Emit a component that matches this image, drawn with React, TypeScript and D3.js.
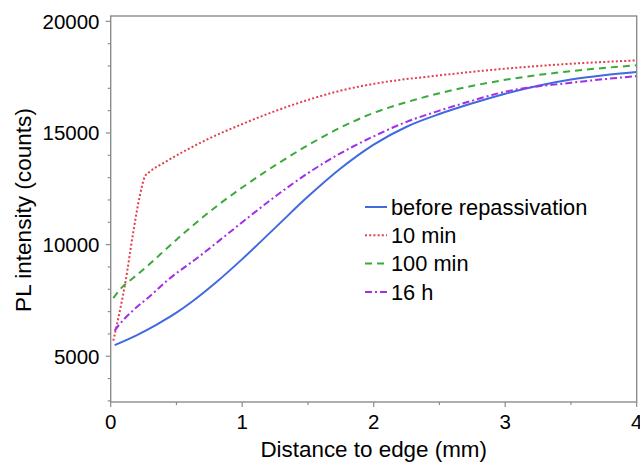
import React from "react";
import * as d3 from "d3";

const seriesNames = ["before repassivation", "10 min", "100 min", "16 h"];

const beforeX = [0.03, 0.2, 0.35, 0.5, 0.62, 0.8, 1.0, 1.25, 1.5, 1.75, 2.0, 2.25, 2.5, 2.75, 3.0, 3.25, 3.5, 3.75, 4.0];
const beforeY = [5500, 5950, 6420, 6950, 7450, 8300, 9350, 10750, 12150, 13420, 14480, 15280, 15850, 16330, 16760, 17120, 17400, 17590, 17730];

const min10X = [0.02, 0.07, 0.11, 0.17, 0.22, 0.26, 0.3, 0.4, 0.58, 0.73, 1.0, 1.25, 1.5, 1.75, 2.0, 2.5, 3.0, 3.5, 4.0];
const min10Y = [5700, 7050, 8250, 10500, 12150, 13050, 13280, 13650, 14250, 14700, 15400, 15980, 16480, 16900, 17200, 17580, 17880, 18100, 18250];

const min100X = [0.02, 0.08, 0.17, 0.3, 0.43, 0.55, 0.68, 0.83, 1.0, 1.25, 1.5, 1.75, 2.0, 2.25, 2.5, 3.0, 3.5, 4.0];
const min100Y = [7600, 8050, 8500, 9150, 9850, 10480, 11130, 11830, 12560, 13550, 14450, 15250, 15900, 16380, 16780, 17380, 17770, 18030];

const h16X = [0.03, 0.07, 0.17, 0.3, 0.43, 0.68, 0.83, 1.0, 1.25, 1.5, 1.75, 2.0, 2.25, 2.5, 2.75, 3.0, 3.5, 4.0];
const h16Y = [6150, 6450, 7050, 7700, 8390, 9500, 10200, 11000, 12150, 13200, 14100, 14850, 15500, 16000, 16450, 16850, 17250, 17550];

const xTicks = [0, 1, 2, 3, 4];
const xMinor = [0.5, 1.5, 2.5, 3.5];
const yTicks = [5000, 10000, 15000, 20000];
const yMinor = [3000, 4000, 6000, 7000, 8000, 9000, 11000, 12000, 13000, 14000, 16000, 17000, 18000, 19000];

const colors = ["#4169e1", "#e0404c", "#3aab3a", "#a22ee8"];
const dashes = ["", "2,2.2", "7,5", "7,3,2,3"];

export default function App() {
  const W = 640, H = 463;
  const left = 110.7, right = 636.7, top = 16, bottom = 402;
  const x = d3.scaleLinear().domain([0, 4]).range([left, right]);
  const y = d3.scaleLinear().domain([2950, 20240]).range([bottom, top]);
  const line = d3
    .line<[number, number]>()
    .x((d) => x(d[0]))
    .y((d) => y(d[1]))
    .curve(d3.curveMonotoneX);
  const series: [number, number][][] = [
    beforeX.map((v, i) => [v, beforeY[i]]),
    min10X.map((v, i) => [v, min10Y[i]]),
    min100X.map((v, i) => [v, min100Y[i]]),
    h16X.map((v, i) => [v, h16Y[i]]),
  ];
  const font = "'Liberation Sans', Arial, sans-serif";
  const axisColor = "#8c8c8c";
  const legX = 365, legY0 = 207, legDy = 28.3;
  return (
    <svg width={W} height={H} style={{ position: "absolute", left: 0, top: 0 }} fontFamily={font}>
      <rect x={0} y={0} width={W} height={H} fill="#fff" />
      <defs>
        <clipPath id="plot">
          <rect x={left} y={top} width={right - left} height={bottom - top} />
        </clipPath>
      </defs>
      <g clipPath="url(#plot)">
        {series.map((s, i) => (
          <path
            key={i}
            d={line(s) || ""}
            fill="none"
            stroke={colors[i]}
            strokeWidth={2}
            strokeDasharray={dashes[i] || undefined}
          />
        ))}
      </g>
      <rect x={left} y={top} width={right - left} height={bottom - top} fill="none" stroke={axisColor} strokeWidth={1.4} />
      {xTicks.map((t) => (
        <g key={"xt" + t}>
          <line x1={x(t)} x2={x(t)} y1={bottom} y2={bottom + 5} stroke={axisColor} strokeWidth={1.2} />
          <text x={x(t)} y={429} textAnchor="middle" fontSize={20.5} fill="#000">
            {t}
          </text>
        </g>
      ))}
      {xMinor.map((t) => (
        <line key={"xm" + t} x1={x(t)} x2={x(t)} y1={bottom} y2={bottom + 3} stroke={axisColor} strokeWidth={1.2} />
      ))}
      {yTicks.map((t) => (
        <g key={"yt" + t}>
          <line x1={left - 5} x2={left} y1={y(t)} y2={y(t)} stroke={axisColor} strokeWidth={1.2} />
          <text x={99.5} y={y(t)} dy="0.36em" textAnchor="end" fontSize={20.5} fill="#000">
            {t}
          </text>
        </g>
      ))}
      {yMinor.map((t) => (
        <line key={"ym" + t} x1={left - 3} x2={left} y1={y(t)} y2={y(t)} stroke={axisColor} strokeWidth={1.2} />
      ))}
      <text x={(left + right) / 2} y={457} textAnchor="middle" fontSize={22.4} fill="#000">
        Distance to edge (mm)
      </text>
      <text
        transform={`translate(31,210) rotate(-90)`}
        textAnchor="middle"
        fontSize={22.6}
        fill="#000"
      >
        PL intensity (counts)
      </text>
      {seriesNames.map((n, i) => (
        <g key={"lg" + i}>
          <line
            x1={legX}
            x2={legX + 22}
            y1={legY0 + i * legDy}
            y2={legY0 + i * legDy}
            stroke={colors[i]}
            strokeWidth={2}
            strokeDasharray={dashes[i] || undefined}
          />
          <text x={legX + 26} y={legY0 + i * legDy} dy="0.36em" fontSize={21.8} fill="#000">
            {n}
          </text>
        </g>
      ))}
    </svg>
  );
}
